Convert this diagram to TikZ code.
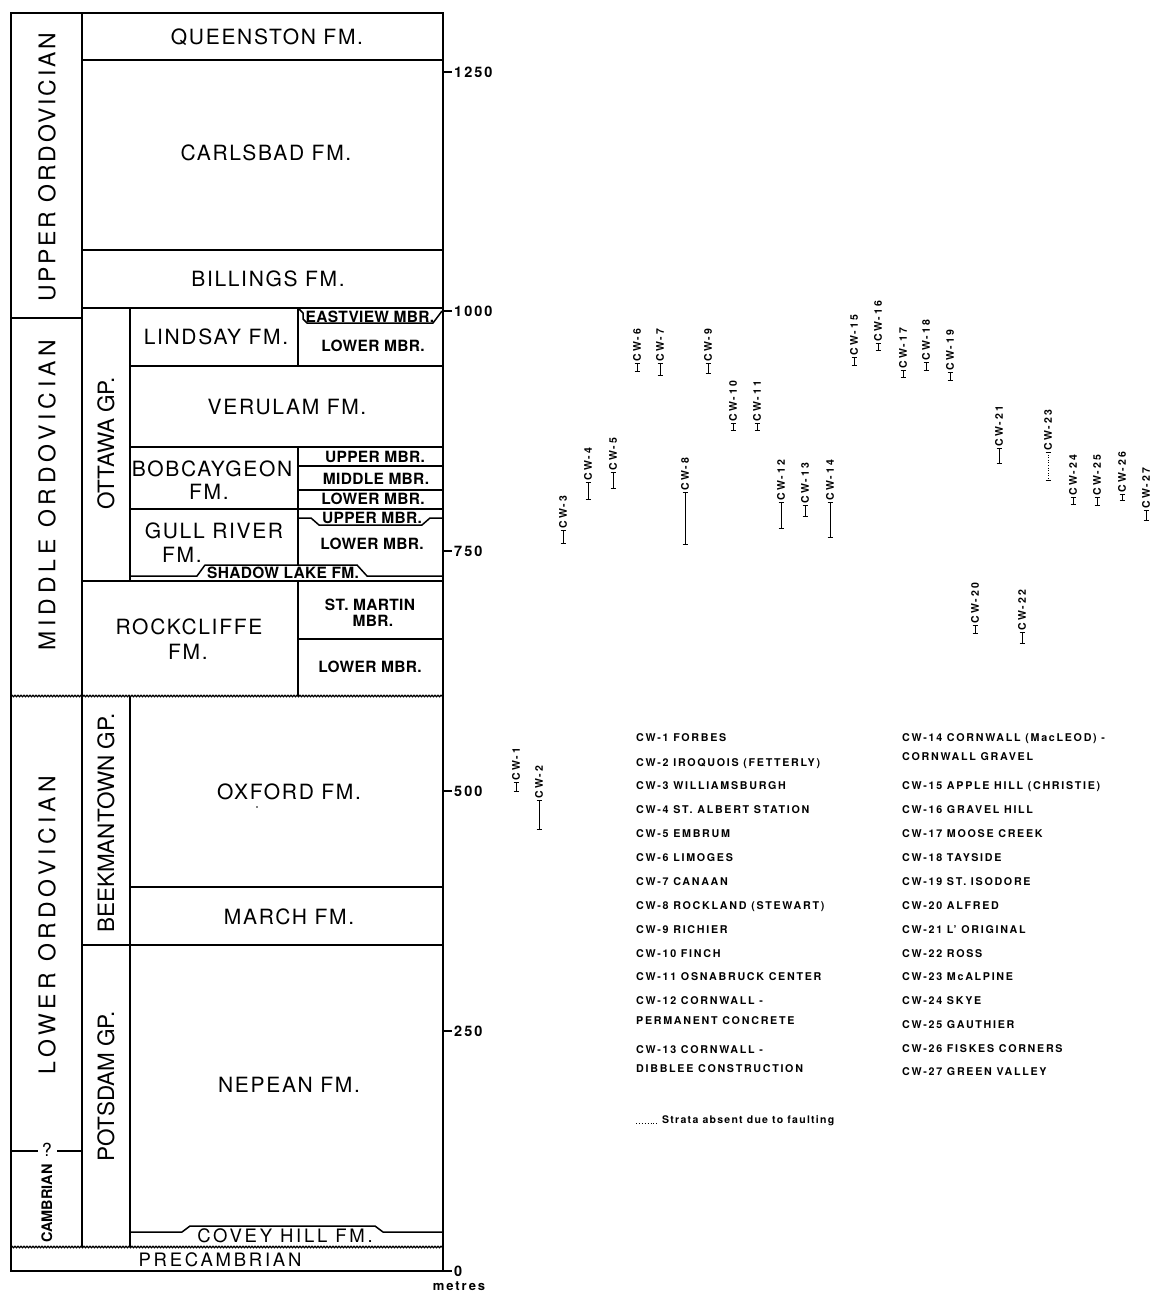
\documentclass[tikz,border=0pt]{standalone}
\usepackage{fontspec}
\setmainfont{TeX Gyre Heros}
\usetikzlibrary{decorations.pathmorphing}
\begin{document}
\begin{tikzpicture}[x=1pt,y=-1pt,
 frame/.style={line width=1.8pt},
 div/.style={line width=1.5pt, line join=round},
 wavy/.style={line width=1.2pt, decorate, decoration={snake, amplitude=0.8pt, segment length=3pt}},
 base/.style={inner sep=0pt, text depth=0pt},
 fmt/.style={base, text height=15pt, font={\fontsize{21}{23}\selectfont\addfontfeature{LetterSpace=8}}},
 mbr/.style={base, text height=11.1pt, font={\fontsize{15.5}{17}\selectfont\bfseries\addfontfeature{LetterSpace=2}}},
 wide/.style={base, text height=13.3pt, font={\fontsize{18.5}{20}\selectfont\addfontfeature{LetterSpace=15}}},
 per/.style={base, rotate=90, text height=16.5pt, font={\fontsize{23}{25}\selectfont\addfontfeature{LetterSpace=12}}},
 grp/.style={base, rotate=90, anchor=west, text height=16.2pt, font={\fontsize{22.5}{24}\selectfont}},
 ticklab/.style={base, anchor=west, text height=10.4pt, font={\fontsize{14.5}{16}\selectfont\bfseries\addfontfeature{LetterSpace=14}}},
 wlab/.style={base, rotate=90, anchor=west, inner xsep=1.5pt, text height=7.5pt, font={\fontsize{10.5}{12}\selectfont\bfseries\addfontfeature{LetterSpace=18}}},
 leg/.style={base, anchor=west, text height=7.7pt, font={\fontsize{10.7}{12}\selectfont\bfseries\addfontfeature{LetterSpace=16}}},
 well/.style={line width=0.6pt},
 wtick/.style={line width=0.9pt}
]
\useasboundingbox (0,0) rectangle (1150,1296);

% ---------- column frame ----------
\draw[frame] (11,13) rectangle (443,1271);
\draw[div] (82,13) -- (82,1247);
\draw[div] (11,318) -- (82,318);
\draw[div] (82,60) -- (443,60);
\draw[div] (82,250) -- (443,250);
\draw[div] (82,308) -- (443,308);
\draw[div] (130,308) -- (130,581);
\draw[div] (298,308) -- (298,366);
\draw[div] (299,309) -- (303,313) -- (303,319) -- (307,323) -- (433,323) -- (442,311);
\draw[div] (130,366) -- (443,366);
\draw[div] (130,447) -- (443,447);
\draw[div] (298,447) -- (298,565);
\draw[div] (298,466) -- (443,466);
\draw[div] (298,490) -- (443,490);
\draw[div] (130,509) -- (443,509);
\draw[div] (298,518) -- (311,518) -- (319,525) -- (422,525) -- (430,518) -- (443,518);
\draw[div] (130,576) -- (197,576) -- (205,565) -- (357,565) -- (367,576) -- (443,576);
\draw[div] (82,581) -- (443,581);
\draw[div] (298,581) -- (298,696);
\draw[div] (298,639) -- (443,639);
\draw[wavy] (11,696) -- (443,696);
\draw[div] (130,696) -- (130,1247);
\draw[div] (130,887) -- (443,887);
\draw[div] (82,945) -- (443,945);
\draw[div] (130,1232) -- (182,1232) -- (190,1226) -- (375,1226) -- (383,1232) -- (443,1232);
\draw[wavy] (11,1247) -- (443,1247);
\draw[div] (11,1151) -- (38,1151);
\draw[div] (57,1151) -- (82,1151);
\fill (257,807) circle (0.9pt);

% ---------- period / group labels ----------
\node[per, anchor=west] (upo) at (47,302) {UPPER ORDOVICIAN};
\node[per, anchor=center, font={\fontsize{23}{25}\selectfont\addfontfeature{LetterSpace=21}}] (mio) at (47,495) {MIDDLE ORDOVICIAN};
\node[per, anchor=center, font={\fontsize{23}{25}\selectfont\addfontfeature{LetterSpace=20}}] (loo) at (47,925) {LOWER ORDOVICIAN};
\node[base, rotate=90, anchor=west, text height=10.4pt, font={\fontsize{14.5}{16}\selectfont\bfseries}] (camb) at (47,1243) {CAMBRIAN};
\node[base, text height=13pt, font={\fontsize{18}{20}\selectfont}] (q) at (47,1150) {?};
\node[grp] (ott) at (106,510) {OTTAWA GP.};
\node[grp] (bee) at (106,933) {BEEKMANTOWN GP.};
\node[grp] (pot) at (106,1162) {POTSDAM GP.};

% ---------- formation labels ----------
\node[fmt] (queen) at (267,37) {QUEENSTON FM.};
\node[fmt] (carls) at (266,153) {CARLSBAD FM.};
\node[fmt] (bill) at (268,279) {BILLINGS FM.};
\node[fmt] (lind) at (216,337) {LINDSAY FM.};
\node[mbr] (east) at (370,317) {EASTVIEW MBR.};
\node[mbr] (lindl) at (373,346) {LOWER MBR.};
\node[fmt] (veru) at (287,407) {VERULAM FM.};
\node[fmt] (bob1) at (212,469) {BOBCAYGEON};
\node[fmt] (bob2) at (209,492) {FM.};
\node[mbr] (bobu) at (375,457) {UPPER MBR.};
\node[mbr] (bobm) at (376,479) {MIDDLE MBR.};
\node[mbr] (bobl) at (373,499) {LOWER MBR.};
\node[fmt] (gull1) at (214,531) {GULL RIVER};
\node[fmt] (gull2) at (182,555) {FM.};
\node[mbr] (gullu) at (372,518) {UPPER MBR.};
\node[mbr] (gulll) at (372,544) {LOWER MBR.};
\node[mbr] (shad) at (283,573) {SHADOW LAKE FM.};
\node[fmt] (rock1) at (189,627) {ROCKCLIFFE};
\node[fmt] (rock2) at (188,652) {FM.};
\node[mbr] (stm1) at (370,605) {ST. MARTIN};
\node[mbr] (stm2) at (373,621) {MBR.};
\node[mbr] (rockl) at (370,667) {LOWER MBR.};
\node[fmt] (oxf) at (289,792) {OXFORD FM.};
\node[fmt] (mar) at (289,917) {MARCH FM.};
\node[fmt] (nep) at (289,1085) {NEPEAN FM.};
\node[wide] (cov) at (285,1236) {COVEY HILL FM.};
\node[wide] (pre) at (220,1260) {PRECAMBRIAN};

% ---------- depth scale ----------
\foreach \v/\y in {1250/72, 1000/311, 750/551, 500/791, 250/1031, 0/1271} {
  \coordinate (t\v a) at (443,\y);
  \coordinate (t\v b) at (452,\y);
  \draw[div] (t\v a) -- (t\v b);
  \node[ticklab] (tl\v) at (454,\y) {\v};
}
\node[base, text height=7.5pt, font={\fontsize{13}{15}\selectfont\bfseries\addfontfeature{LetterSpace=15}}] (met) at (459,1287) {metres};

% ---------- wells ----------
\foreach \n/\x/\t/\b/\s in {1/516/782/791/solid, 2/539/800/829/solid, 3/563/530/543/solid,
  4/588/482/499/solid, 5/613/472/488/solid, 6/637/363/371/solid, 7/660/363/375/solid,
  8/685/492/544/solid, 9/708/363/373/solid, 10/733/423/430/solid, 11/757/423/430/solid,
  12/781/502/528/solid, 13/805/505/516/solid, 14/830/502/537/solid, 15/854/357/365/solid,
  16/878/343/350/solid, 17/903/370/377/solid, 18/926/362/370/solid, 19/950/372/380/solid,
  20/975/625/633/solid, 21/999/448/463/solid, 22/1022/632/643/solid, 23/1048/452/480/dotted,
  24/1073/497/504/solid, 25/1097/497/505/solid, 26/1122/494/500/solid, 27/1146/510/520/solid} {
  \coordinate (w\n t) at (\x,\t);
  \coordinate (w\n b) at (\x,\b);
  \draw[well,\s] (w\n t) -- (w\n b);
  \draw[wtick] ([xshift=-2.5pt]w\n t) -- ([xshift=2.5pt]w\n t);
  \draw[wtick] ([xshift=-2.5pt]w\n b) -- ([xshift=2.5pt]w\n b);
  \node[wlab] (wl\n) at (w\n t) {CW-\n};
}

% ---------- legend ----------
\node[leg] (g1) at (636,738) {CW-1 FORBES};
\node[leg] (g2) at (636,763) {CW-2 IROQUOIS (FETTERLY)};
\node[leg] (g3) at (636,786) {CW-3 WILLIAMSBURGH};
\node[leg] (g4) at (636,810) {CW-4 ST. ALBERT STATION};
\node[leg] (g5) at (636,834) {CW-5 EMBRUM};
\node[leg] (g6) at (636,858) {CW-6 LIMOGES};
\node[leg] (g7) at (636,882) {CW-7 CANAAN};
\node[leg] (g8) at (636,906) {CW-8 ROCKLAND (STEWART)};
\node[leg] (g9) at (636,930) {CW-9 RICHIER};
\node[leg] (g10) at (636,954) {CW-10 FINCH};
\node[leg] (g11) at (636,977) {CW-11 OSNABRUCK CENTER};
\node[leg] (g12) at (636,1001) {CW-12 CORNWALL -};
\node[leg] (g12b) at (636,1021) {PERMANENT CONCRETE};
\node[leg] (g13) at (636,1050) {CW-13 CORNWALL -};
\node[leg] (g13b) at (636,1069) {DIBBLEE CONSTRUCTION};
\node[leg] (g14) at (902,738) {CW-14 CORNWALL (MacLEOD) -};
\node[leg] (g14b) at (902,757) {CORNWALL GRAVEL};
\node[leg] (g15) at (902,786) {CW-15 APPLE HILL (CHRISTIE)};
\node[leg] (g16) at (902,810) {CW-16 GRAVEL HILL};
\node[leg] (g17) at (902,834) {CW-17 MOOSE CREEK};
\node[leg] (g18) at (902,858) {CW-18 TAYSIDE};
\node[leg] (g19) at (902,882) {CW-19 ST. ISODORE};
\node[leg] (g20) at (902,906) {CW-20 ALFRED};
\node[leg] (g21) at (902,930) {CW-21 L' ORIGINAL};
\node[leg] (g22) at (902,954) {CW-22 ROSS};
\node[leg] (g23) at (902,977) {CW-23 McALPINE};
\node[leg] (g24) at (902,1001) {CW-24 SKYE};
\node[leg] (g25) at (902,1025) {CW-25 GAUTHIER};
\node[leg] (g26) at (902,1049) {CW-26 FISKES CORNERS};
\node[leg] (g27) at (902,1072) {CW-27 GREEN VALLEY};
\coordinate (fa) at (636,1123);
\coordinate (fb) at (658,1123);
\draw[line width=0.9pt, dotted] (fa) -- (fb);
\node[base, anchor=west, text height=7.7pt, font={\fontsize{10.5}{12}\selectfont\bfseries\addfontfeature{LetterSpace=12}}] (foot) at (662,1120) {Strata absent due to faulting};
\end{tikzpicture}
\end{document}
